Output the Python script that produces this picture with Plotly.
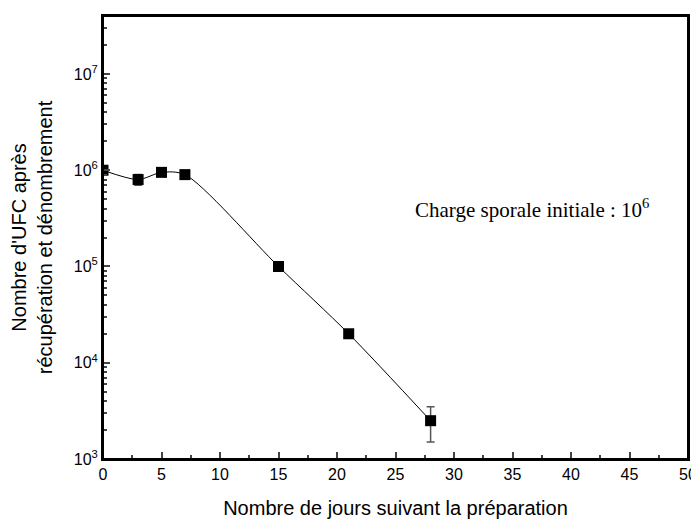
import plotly.graph_objects as go
import math

days = [0, 3, 5, 7, 15, 21, 28]
ufc = [1.0e6, 8.0e5, 9.5e5, 9.0e5, 1.0e5, 2.0e4, 2.5e3]
err_plus = [5e4, 1.0e5, 5e4, 5e4, 5e3, 1e3, 1.0e3]
err_minus = [5e4, 1.0e5, 5e4, 5e4, 5e3, 1e3, 1.0e3]

x_ticks = list(range(0, 55, 5))
y_tickvals = [1e3, 1e4, 1e5, 1e6, 1e7]
y_ticktext = ["10<sup>3</sup>", "10<sup>4</sup>", "10<sup>5</sup>", "10<sup>6</sup>", "10<sup>7</sup>"]

fig = go.Figure()
fig.add_trace(go.Scatter(
    x=days, y=ufc, mode="lines",
    line=dict(color="black", width=1, shape="spline", smoothing=0.8),
    showlegend=False, hoverinfo="skip"))
fig.add_trace(go.Scatter(
    x=days, y=ufc, mode="markers",
    marker=dict(symbol="square", size=11, color="black"),
    error_y=dict(type="data", array=err_plus, arrayminus=err_minus,
                 color="#555555", thickness=1.5, width=4),
    showlegend=False))

fig.add_annotation(x=26.5, y=math.log10(4.0e5), xref="x", yref="y",
                   text="Charge sporale initiale : 10<sup>6</sup>",
                   showarrow=False, xanchor="left", yanchor="middle",
                   font=dict(family="Liberation Serif, Times New Roman, serif", size=21, color="black"))

fig.add_shape(type="rect", xref="paper", yref="paper", x0=0, x1=1, y0=0, y1=1,
              line=dict(color="black", width=2), fillcolor="rgba(0,0,0,0)", layer="above")

# page body has an 8px default margin, so the figure is sized/margined to compensate
fig.update_layout(
    width=691, height=511,
    margin=dict(l=95, r=11, t=8, b=60),
    paper_bgcolor="white", plot_bgcolor="white",
    font=dict(family="Liberation Sans, Arial, sans-serif", color="black", size=16),
    xaxis=dict(range=[0, 50], tickvals=x_ticks, ticks="inside", ticklen=7, tickwidth=1.5,
               showline=True, linewidth=2, linecolor="black", mirror=True,
               showgrid=False, zeroline=False, automargin=False,
               minor=dict(ticks="inside", ticklen=4, tickwidth=1.5, dtick=2.5, showgrid=False),
               title=dict(text="Nombre de jours suivant la préparation", font=dict(size=20), standoff=24)),
    yaxis=dict(type="log", range=[3, math.log10(4e7)], tickvals=y_tickvals, ticktext=y_ticktext,
               ticks="inside", ticklen=7, tickwidth=1.5,
               showline=True, linewidth=2, linecolor="black", mirror=True,
               showgrid=False, zeroline=False, automargin=False,
               minor=dict(ticks="inside", ticklen=4, tickwidth=1.5, dtick="D1", showgrid=False),
               title=dict(text="Nombre d'UFC après<br>récupération et dénombrement", font=dict(size=20), standoff=16)),
)

fig.write_html("out.html")
